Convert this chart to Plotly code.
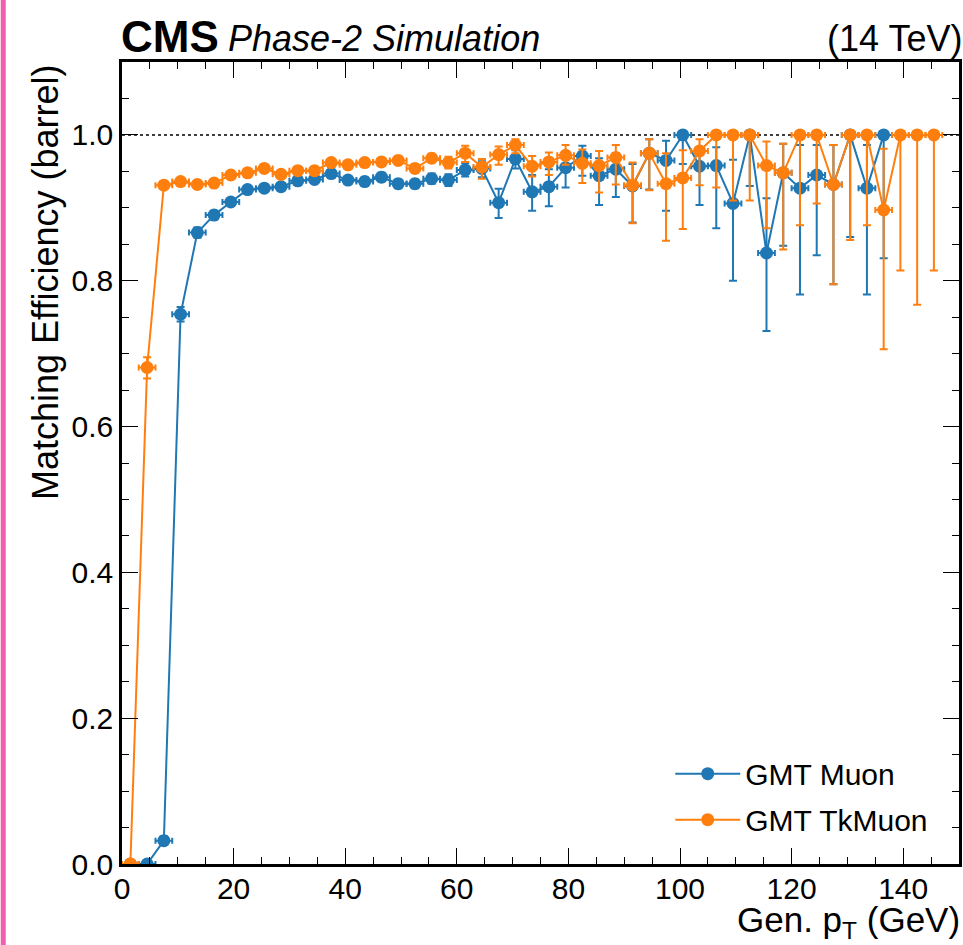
import plotly.graph_objects as go

# Generator-level pT bin centres (3 GeV bins) and half-widths
pt_centers = [1.5 + 3 * i for i in range(49)]
pt_halfwidth = [1.5] * 49

# GMT Muon matching efficiency (barrel)
muon_eff = [0.0, 0.0, 0.032, 0.754, 0.866, 0.890, 0.908, 0.925, 0.927, 0.929,
            0.937, 0.939, 0.947, 0.938, 0.936, 0.942, 0.933, 0.933, 0.940, 0.938,
            0.952, 0.954, 0.907, 0.967, 0.922, 0.929, 0.955, 0.971, 0.944, 0.953,
            0.930, 0.975, 0.965, 1.0, 0.957, 0.958, 0.906, 1.0, 0.838, 0.948,
            0.927, 0.945, 0.932, 1.0, 0.927, 1.0, None, None, None]
muon_err_hi = [0.004, 0.004, 0.006, 0.010, 0.007, 0.006, 0.005, 0.005, 0.005, 0.005,
               0.005, 0.005, 0.005, 0.005, 0.006, 0.006, 0.006, 0.006, 0.007, 0.008,
               0.009, 0.010, 0.019, 0.012, 0.023, 0.024, 0.018, 0.014, 0.024, 0.022,
               0.030, 0.019, 0.027, 0.0, 0.021, 0.025, 0.060, 0.0, 0.075, 0.040,
               0.059, 0.041, 0.054, 0.0, 0.059, 0.0, 0.0, 0.0, 0.0]
muon_err_lo = [0.0, 0.0, 0.006, 0.010, 0.007, 0.006, 0.005, 0.005, 0.005, 0.005,
               0.005, 0.005, 0.005, 0.005, 0.006, 0.006, 0.006, 0.006, 0.007, 0.008,
               0.009, 0.012, 0.021, 0.013, 0.026, 0.027, 0.027, 0.027, 0.040, 0.038,
               0.050, 0.050, 0.069, 0.040, 0.053, 0.086, 0.106, 0.070, 0.107, 0.100,
               0.146, 0.110, 0.137, 0.140, 0.146, 0.169, 0.0, 0.0, 0.0]

# GMT TkMuon matching efficiency (barrel)
tkmuon_eff = [0.0, 0.681, 0.931, 0.936, 0.932, 0.934, 0.945, 0.948, 0.954, 0.946,
              0.951, 0.951, 0.962, 0.959, 0.962, 0.963, 0.965, 0.954, 0.968, 0.962,
              0.975, 0.956, 0.973, 0.986, 0.957, 0.963, 0.972, 0.961, 0.958, 0.969,
              0.931, 0.975, 0.933, 0.941, 0.978, 1.0, 1.0, 1.0, 0.958, 0.948,
              1.0, 1.0, 0.932, 1.0, 1.0, 0.897, 1.0, 1.0, 1.0]
tkmuon_err_hi = [0.004, 0.014, 0.005, 0.005, 0.005, 0.005, 0.005, 0.005, 0.005, 0.005,
                 0.005, 0.005, 0.005, 0.005, 0.005, 0.005, 0.005, 0.006, 0.006, 0.008,
                 0.010, 0.011, 0.011, 0.008, 0.014, 0.013, 0.014, 0.019, 0.020, 0.017,
                 0.031, 0.019, 0.042, 0.038, 0.016, 0.0, 0.0, 0.0, 0.033, 0.040,
                 0.0, 0.0, 0.054, 0.0, 0.0, 0.084, 0.0, 0.0, 0.0]
tkmuon_err_lo = [0.0, 0.015, 0.005, 0.005, 0.005, 0.005, 0.005, 0.005, 0.005, 0.005,
                 0.005, 0.005, 0.005, 0.005, 0.005, 0.005, 0.005, 0.006, 0.006, 0.008,
                 0.012, 0.016, 0.014, 0.011, 0.014, 0.018, 0.013, 0.027, 0.037, 0.037,
                 0.052, 0.051, 0.078, 0.070, 0.047, 0.072, 0.090, 0.090, 0.086, 0.105,
                 0.124, 0.094, 0.137, 0.144, 0.124, 0.191, 0.186, 0.233, 0.186]

BLUE = "#1f77b4"
ORANGE = "#ff7f0e"
FONT = "Liberation Sans, Arial, Helvetica, sans-serif"


def eff_trace(name, eff, lo, hi, color):
    return go.Scatter(
        x=pt_centers, y=eff, name=name, legendgroup=name,
        mode="lines+markers",
        line=dict(color=color, width=2),
        marker=dict(color=color, size=13),
        error_y=dict(type="data", symmetric=False, array=hi, arrayminus=lo,
                     color=color, thickness=2, width=4),
        error_x=dict(type="data", array=pt_halfwidth, color=color,
                     thickness=2, width=3),
        connectgaps=False,
    )


fig = go.Figure()
fig.add_trace(eff_trace("GMT Muon", muon_eff, muon_err_lo, muon_err_hi, BLUE))
fig.add_trace(eff_trace("GMT TkMuon", tkmuon_eff, tkmuon_err_lo, tkmuon_err_hi, ORANGE))

# Reference line at unit efficiency
fig.add_shape(type="line", xref="x", yref="y", x0=0, x1=150, y0=1.0, y1=1.0,
              line=dict(color="black", width=1.5, dash="dot"), layer="below")

# Accent bar along the left page edge
fig.add_shape(type="rect", xref="paper", yref="paper",
              x0=-0.1449, x1=-0.1389, y0=-0.11, y1=1.09,
              fillcolor="#ef5fae", line=dict(width=0))

axis_common = dict(
    showline=True, linecolor="black", linewidth=2.5, mirror="allticks",
    ticks="inside", ticklen=16, tickwidth=1.3, tickcolor="black",
    showgrid=False, zeroline=False,
    tickfont=dict(family=FONT, size=30, color="black"),
)

fig.update_xaxes(range=[0, 150], dtick=20, tick0=0, ticklabelstandoff=-4,
                 minor=dict(dtick=5, ticklen=7, tickwidth=1, ticks="inside",
                            tickcolor="black", showgrid=False),
                 **axis_common)
fig.update_yaxes(range=[0, 1.1], dtick=0.2, tick0=0, tickformat=".1f",
                 minor=dict(dtick=0.05, ticklen=7, tickwidth=1, ticks="inside",
                            tickcolor="black", showgrid=False),
                 **axis_common)

annotations = [
    dict(text="<b>CMS</b>", x=-0.003, y=1, xref="paper", yref="paper",
         xanchor="left", yanchor="bottom", yshift=-1, showarrow=False,
         font=dict(family=FONT, size=44, color="black")),
    dict(text="<i>Phase-2 Simulation</i>", x=0.124, y=1, xref="paper", yref="paper",
         xanchor="left", yanchor="bottom", yshift=1, showarrow=False,
         font=dict(family=FONT, size=36, color="black")),
    dict(text="(14 TeV)", x=1, y=1, xref="paper", yref="paper",
         xanchor="right", yanchor="bottom", yshift=1, xshift=5, showarrow=False,
         font=dict(family=FONT, size=36, color="black")),
    dict(text="Gen. p<sub>T</sub> (GeV)", x=1, y=-0.072, xref="paper", yref="paper",
         xanchor="right", yanchor="middle", xshift=3, showarrow=False,
         font=dict(family=FONT, size=35, color="black")),
    dict(text="Matching Efficiency (barrel)", x=-0.092, y=1, xref="paper",
         yref="paper", xanchor="center", yanchor="top", textangle=-90,
         showarrow=False, font=dict(family=FONT, size=36, color="black")),
]

fig.update_layout(
    width=963, height=945,
    margin=dict(l=122, r=1, t=62, b=81),
    paper_bgcolor="white", plot_bgcolor="white",
    showlegend=True,
    legend=dict(x=0.655, y=0.145, xanchor="left", yanchor="top",
                bgcolor="rgba(0,0,0,0)", tracegroupgap=4, itemwidth=65,
                font=dict(family=FONT, size=30, color="black")),
    annotations=annotations,
    font=dict(family=FONT),
)

fig.write_html("out.html")
